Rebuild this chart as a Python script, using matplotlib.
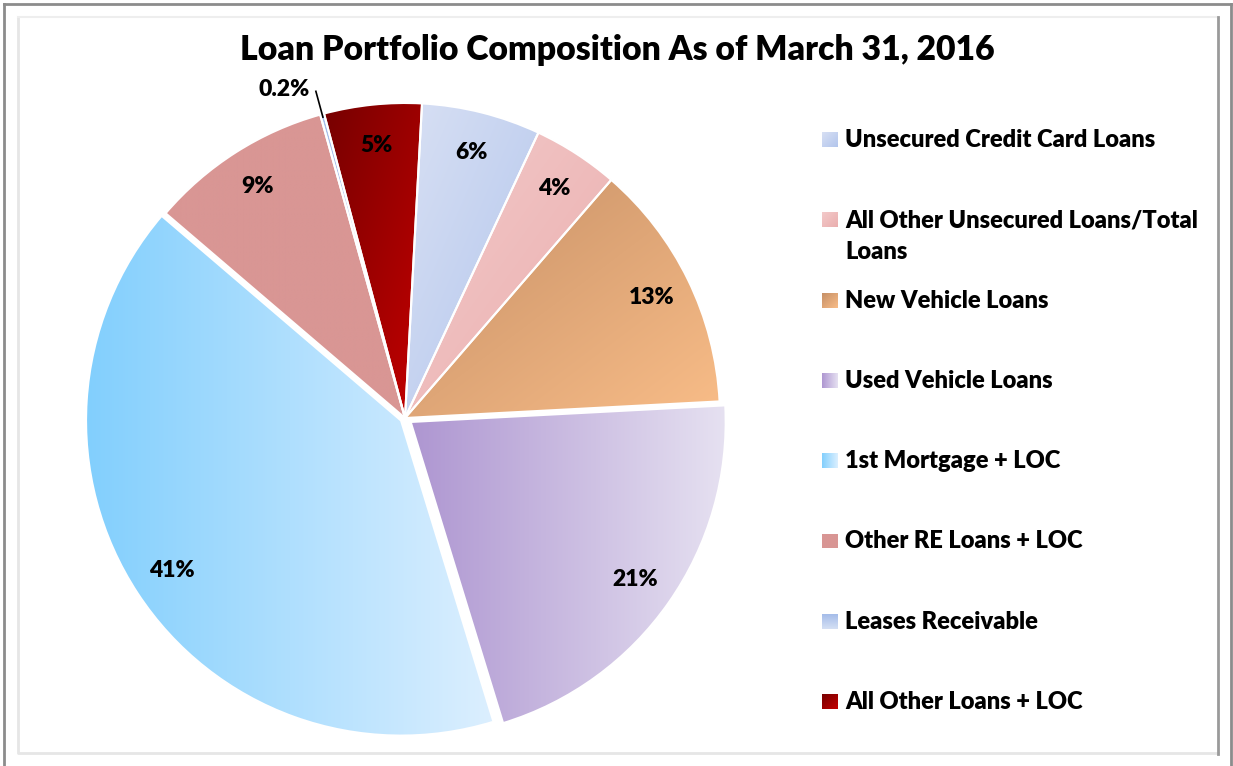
import matplotlib.pyplot as plt
import numpy as np
from matplotlib.colors import to_rgb
from matplotlib.patches import Rectangle

plt.rcParams['font.family'] = ['Lato', 'DejaVu Sans']

# data (percent of total loans)
labels = ['Unsecured Credit Card Loans', 'All Other Unsecured Loans/Total\nLoans',
          'New Vehicle Loans', 'Used Vehicle Loans', '1st Mortgage + LOC',
          'Other RE Loans + LOC', 'Leases Receivable', 'All Other Loans + LOC']
shares = [6.1, 4.4, 12.8, 21.1, 41.0, 9.4, 0.2, 5.0]
explode = [0, 0, 0, 0.022, 0.015, 0, 0, 0]

# gradient colours, start -> end, and direction of the gradient
c_start = ['#d8e0f4', '#f3caca', '#c58f66', '#ae96d1', '#82cffd', '#d99694', '#a4bce9', '#760000']
c_end = ['#b2c5ec', '#eaaeae', '#f9bd88', '#e6e1f1', '#dcefff', '#d99694', '#d5e0f4', '#c40000']
g_dir = [(1, -1), (1, -1), (1, -1), (1, 0), (1, 0), (1, 0), (0, -1), (1, -1)]

W, H = 1233, 766
WT = 'heavy'


def gradient(ax, clip, ext, c0, c1, d, z=0.5):
    n = 200
    xs = np.linspace(0, 1, n)
    X, Y = np.meshgrid(xs, xs)
    t = X * d[0] + Y * d[1]
    t = (t - t.min()) / (t.max() - t.min())
    rgb = (1 - t)[..., None] * np.array(to_rgb(c0)) + t[..., None] * np.array(to_rgb(c1))
    im = ax.imshow(rgb, extent=ext, origin='lower', zorder=z,
                   interpolation='bilinear', aspect='auto')
    im.set_clip_path(clip)
    return im


def fmt(p):
    return '%.1f%%' % p if p < 1 else '%.0f%%' % p


fig = plt.figure(figsize=(W / 100, H / 100), dpi=100)

# pie axes, centre ~ (405, 418) px, radius ~ 315 px
R = 315
cx, cy = 405, 418
side = 2.2 * R
ax = fig.add_axes([(cx - side / 2) / W, (H - cy - side / 2) / H, side / W, side / H])

wedges, texts, autotexts = ax.pie(
    shares, explode=explode, startangle=86.9, counterclock=False, radius=1,
    autopct=fmt, pctdistance=0.87,
    wedgeprops=dict(edgecolor='white', linewidth=1.5),
    textprops=dict(fontsize=16.5, fontweight=WT, color='black'))

for i, w in enumerate(wedges):
    bb = w.get_path().get_extents()
    gradient(ax, w, (bb.x0, bb.x1, bb.y0, bb.y1), c_start[i], c_end[i], g_dir[i])
    w.set_facecolor('none')
    w.set_zorder(1)
for t in autotexts:
    t.set_zorder(3)

# small slice label outside with leader line
lw = wedges[6]
mid = np.deg2rad((lw.theta1 + lw.theta2) / 2)
ax.plot([0.99 * np.cos(mid), 1.075 * np.cos(mid)],
        [0.99 * np.sin(mid), 1.075 * np.sin(mid)], color='black', lw=1.2, zorder=3)
autotexts[6].set_position((1.075 * np.cos(mid) - 0.02, 1.075 * np.sin(mid) + 0.005))
autotexts[6].set_ha('right')
autotexts[6].set_va('center')

ax.set_xlim(-1.1, 1.1)
ax.set_ylim(-1.1, 1.1)
ax.axis('off')

# overlay in pixel units: frame, title, legend
ov = fig.add_axes([0, 0, 1, 1], zorder=5)
ov.set_xlim(0, W)
ov.set_ylim(H, 0)
ov.axis('off')
ov.patch.set_alpha(0)

ov.plot([4, 4], [4, H], color='#8c8c8c', lw=2)
ov.plot([4, 1231], [4, 4], color='#8c8c8c', lw=2)
ov.plot([1231, 1231], [4, H], color='#8c8c8c', lw=2)
ov.plot([18, 18, 1218], [17, 753, 753], color='#e6e6e6', lw=2)
ov.plot([18, 1218], [17, 17], color='#eeeeee', lw=1.5)
ov.plot([1218, 1218], [17, 754], color='#9a9a9a', lw=2)

ov.text(617, 60, 'Loan Portfolio Composition As of March 31, 2016', ha='center',
        va='baseline', fontsize=24.3, fontweight=WT)

leg_top, leg_step, line_step = 139.5, 80.3, 32
for i, lab in enumerate(labels):
    yc = leg_top + leg_step * i
    sq = Rectangle((822, yc - 7.5), 16, 15, facecolor='none', edgecolor='none')
    ov.add_patch(sq)
    gradient(ov, sq, (822, 838, yc + 7.5, yc - 7.5), c_start[i], c_end[i], g_dir[i], z=2)
    for k, part in enumerate(lab.split('\n')):
        ov.text(845, yc + 7.5 + k * line_step, part, fontsize=17, fontweight=WT,
                va='baseline', ha='left')

fig.savefig('out.png', dpi=100)
